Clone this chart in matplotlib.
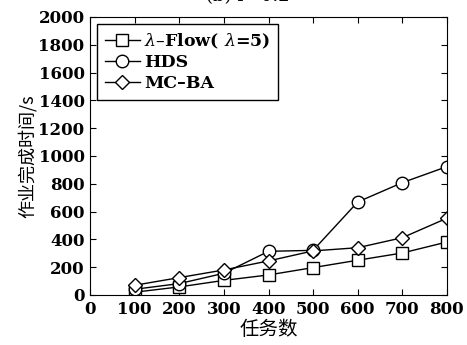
import numpy as np
import matplotlib.pyplot as plt

tasks = [100, 200, 300, 400, 500, 600, 700, 800]
lam_flow = [20, 58, 105, 144, 197, 250, 302, 381]
hds = [41, 82, 156, 314, 321, 669, 808, 923]
mc_ba = [70, 125, 180, 245, 317, 340, 412, 552]

plt.rcParams['font.family'] = ['DejaVu Serif', 'Noto Sans CJK SC']
plt.rcParams['mathtext.fontset'] = 'dejavuserif'

fig = plt.figure(figsize=(4.67, 3.45), dpi=100)
ax = fig.add_axes([0.193, 0.145, 0.764, 0.806])

ax.plot(tasks, lam_flow, '-s', color='k', lw=1, ms=8.5, mfc='w', mec='k', mew=1,
        label=r'$\lambda$–Flow( $\lambda$=5)')
ax.plot(tasks, hds, '-o', color='k', lw=1, ms=9, mfc='w', mec='k', mew=1,
        label='HDS')
ax.plot(tasks, mc_ba, '-D', color='k', lw=1, ms=7, mfc='w', mec='k', mew=1,
        label='MC–BA')

ax.set_xlim(0, 800)
ax.set_ylim(0, 2000)
ax.set_xticks(np.arange(0, 801, 100))
ax.set_yticks(np.arange(0, 2001, 200))
ax.tick_params(direction='in', top=True, right=True, labelsize=12, length=4, pad=4)
for lab in ax.get_xticklabels() + ax.get_yticklabels():
    lab.set_fontweight('bold')

ax.set_xlabel('任务数', family=['Noto Sans CJK SC'], fontsize=14, labelpad=1)
ax.set_ylabel('作业完成时间/s', family=['Noto Sans CJK SC', 'DejaVu Serif'],
              fontsize=13, labelpad=1)

fig.text(0.53, 1.012, '(b) r=0.2', ha='center', va='center', fontsize=13)

leg = ax.legend(loc='upper left', fontsize=12.5, fancybox=False, edgecolor='k',
                framealpha=1, handlelength=2.0, handletextpad=0.25,
                labelspacing=0.2, borderpad=0.45, borderaxespad=0.4)
leg.get_frame().set_linewidth(1)
for t in leg.get_texts():
    t.set_fontweight('bold')

fig.savefig('out.png', dpi=100)
